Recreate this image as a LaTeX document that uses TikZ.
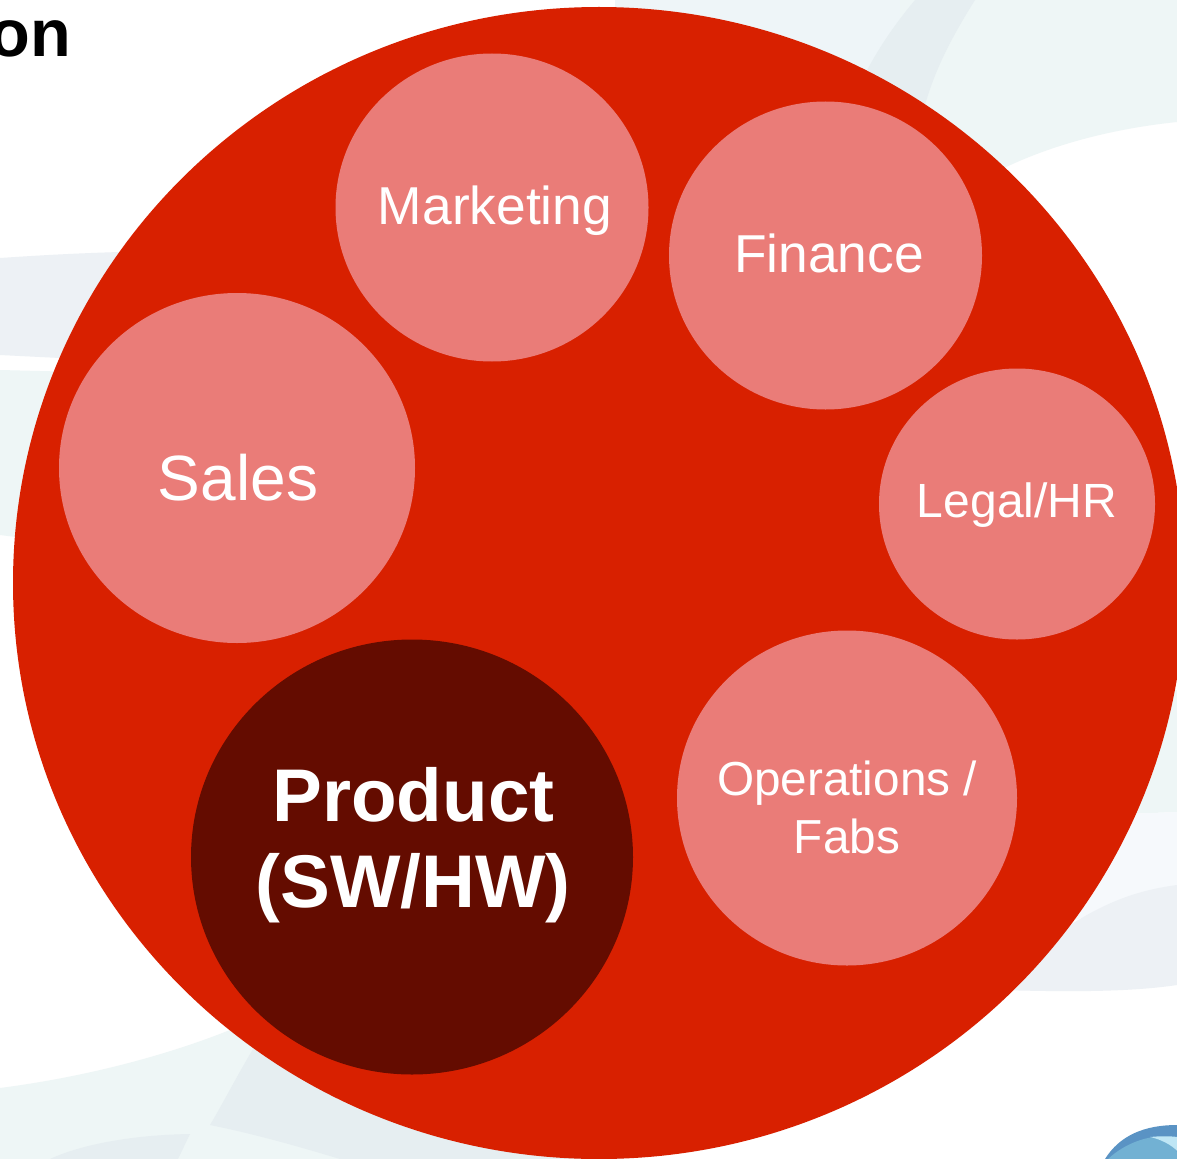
\documentclass[tikz,border=0pt]{standalone}
\usepackage{fontspec}
\setmainfont{Liberation Sans}
\usetikzlibrary{shapes.geometric}
\definecolor{bigred}{HTML}{D82000}
\definecolor{pinkc}{HTML}{EA7C78}
\definecolor{darkc}{HTML}{640C00}
\definecolor{paleA}{HTML}{EEF6F6}
\definecolor{paleB}{HTML}{E6EEF1}
\definecolor{paleC}{HTML}{EDF1F5}
\definecolor{paleD}{HTML}{F6F9FC}
\definecolor{paleE}{HTML}{EEF5F8}
\definecolor{logoA}{HTML}{5A93C4}
\definecolor{logoB}{HTML}{72B1D3}
\definecolor{logoC}{HTML}{BFE6F5}
\newcommand{\fs}[1]{\fontsize{#1}{#1}\selectfont}
\tikzset{
  x=0.75pt,y=-0.75pt,
  lbl/.style={text=white,align=center,inner sep=0pt},
}
\begin{document}
\begin{tikzpicture}
\useasboundingbox (0,0) rectangle (1177,1159);
\fill[white] (0,0) rectangle (1177,1159);
% pale background swooshes: left
\fill[paleC] (0,258) .. controls (60,254) and (100,252) .. (200,250) -- (200,365) -- (0,355) -- cycle;
\fill[paleA] (0,370) -- (200,375) -- (200,560) -- (0,535) -- cycle;
% top
\fill[paleE] (615,0) -- (900,0) -- (900,120) -- (615,120) -- cycle;
\fill[paleA] (900,0) -- (1177,0) -- (1177,122) .. controls (1100,130) and (1040,150) .. (1000,170) -- (900,100) -- cycle;
\fill[paleB] (915,0) -- (975,0) .. controls (950,40) and (935,70) .. (925,105) -- (850,105) .. controls (870,60) and (890,30) .. (915,0) -- cycle;
% right
\fill[paleA] (1100,690) -- (1177,690) -- (1177,812) -- (1100,815) -- cycle;
\fill[paleD] (1100,815) -- (1177,812) -- (1177,890) -- (1040,930) -- cycle;
\fill[paleC] (1177,885) .. controls (1140,890) and (1110,900) .. (1070,925) -- (1000,990) .. controls (1070,992) and (1130,992) .. (1177,985) -- cycle;
% bottom left
\fill[paleA] (0,1088) .. controls (100,1075) and (180,1050) .. (230,1030) -- (420,1159) -- (0,1159) -- cycle;
\fill[paleB] (50,1159) .. controls (80,1145) and (130,1135) .. (190,1134) -- (178,1159) -- cycle;
\fill[paleB] (265,1030) .. controls (245,1060) and (225,1100) .. (210,1125) .. controls (260,1135) and (310,1150) .. (340,1159) -- (620,1159) -- (620,1150) -- (265,1030) -- cycle;
% logo
\fill[logoA] (1105,1159) .. controls (1120,1135) and (1145,1125) .. (1177,1125) -- (1177,1159) -- cycle;
\fill[logoB] (1108,1159) .. controls (1125,1143) and (1148,1136) .. (1160,1137) .. controls (1170,1143) and (1175,1148) .. (1177,1152) -- (1177,1159) -- cycle;
\fill[logoC] (1150,1137) .. controls (1160,1136) and (1170,1136) .. (1177,1137) -- (1177,1151) .. controls (1172,1145) and (1160,1139) .. (1150,1137) -- cycle;
% title fragment
\node[anchor=base east,inner sep=0pt,font=\fs{50}\bfseries] (title) at (71,57) {on};
% main circle
\node[ellipse,fill=bigred,inner sep=0pt,minimum width=1172*0.75pt,minimum height=1152*0.75pt] (org) at (599,583) {};
% function circles
\node[ellipse,fill=pinkc,inner sep=0pt,minimum width=313*0.75pt,minimum height=308*0.75pt] (marketingc) at (492,207.5) {};
\node[ellipse,fill=pinkc,inner sep=0pt,minimum width=313*0.75pt,minimum height=308*0.75pt] (financec) at (825.5,255.5) {};
\node[ellipse,fill=pinkc,inner sep=0pt,minimum width=276*0.75pt,minimum height=271*0.75pt] (legalc) at (1017,504) {};
\node[ellipse,fill=pinkc,inner sep=0pt,minimum width=356*0.75pt,minimum height=350*0.75pt] (salesc) at (237,468) {};
\node[ellipse,fill=pinkc,inner sep=0pt,minimum width=340*0.75pt,minimum height=335*0.75pt] (opsc) at (847,798) {};
\node[ellipse,fill=darkc,inner sep=0pt,minimum width=442*0.75pt,minimum height=435*0.75pt] (prodc) at (412,857) {};
% labels
\node[lbl,font=\fs{40}] (marketing) at (495,211) {Marketing};
\node[lbl,font=\fs{40}] (finance) at (829,253) {Finance};
\node[lbl,font=\fs{36}] (legal) at (1017,505) {Legal/HR};
\node[lbl,font=\fs{48}] (sales) at (238,478) {Sales};
\node[lbl,font=\fs{35.8}] (ops1) at (847,783) {Operations /};
\node[lbl,font=\fs{35.8}] (ops2) at (847,836) {Fabs};
\node[lbl,font=\fs{56}\bfseries] (prod1) at (413.5,795) {Product};
\node[lbl,font=\fs{56}\bfseries] (prod2) at (413,888) {(SW/HW)};
\end{tikzpicture}
\end{document}
